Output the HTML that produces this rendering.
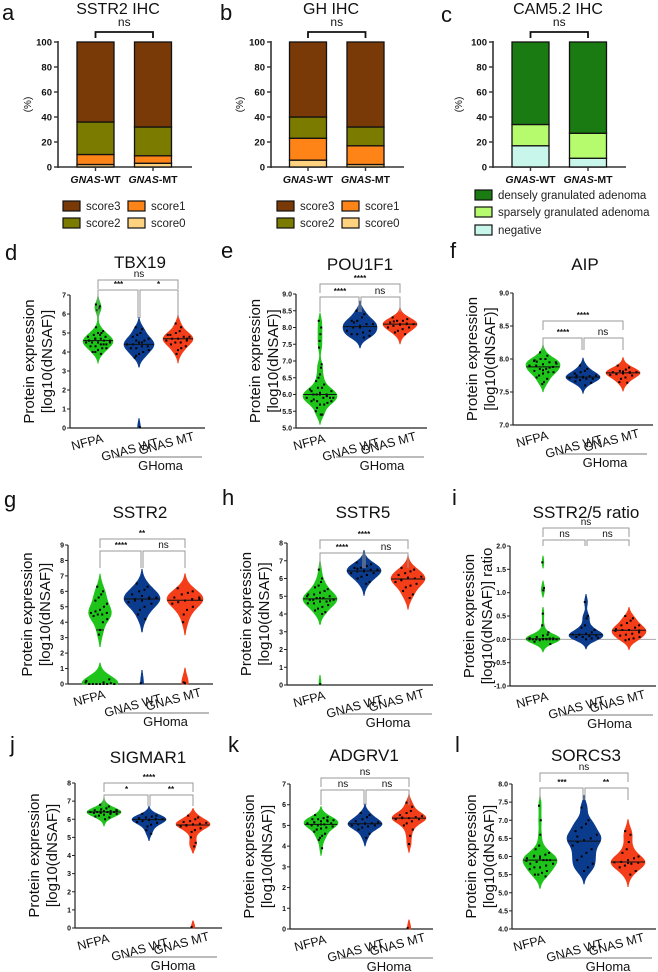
<!DOCTYPE html>
<html><head><meta charset="utf-8"><style>
html,body{margin:0;padding:0;background:#fff}
svg{display:block;font-family:"Liberation Sans",Arial,sans-serif}
</style></head><body>
<svg id="fig" width="658" height="972" viewBox="0 0 658 972"></svg>
<script>
// ---------- stacked bar data (segment %, bottom to top) ----------
const barGroups = ['GNAS-WT','GNAS-MT'];
const sstr2IhcWT = [2, 8, 26, 64];
const sstr2IhcMT = [3, 6, 23, 68];
const ghIhcWT = [5.5, 17.5, 17, 60];
const ghIhcMT = [2, 15, 15, 68];
const camIhcWT = [17, 17, 66];
const camIhcMT = [7, 20, 73];
const scoreNames = ['score0','score1','score2','score3'];
const camNames = ['negative','sparsely granulated adenoma','densely granulated adenoma'];
const barTicks = [0, 20, 40, 60, 80, 100];

// ---------- violin data ----------
const cats = ['NFPA', 'GNAS WT', 'GNAS MT'];
const tbx19NFPA = [6.5,6.4,6.3,6.2,5.3,5.1,5.0,5.0,4.9,4.8,4.8,4.7,4.7,4.6,4.6,4.6,4.5,4.5,4.5,4.4,4.4,4.3,4.3,4.2,4.2,4.1,4.0,4.0,3.9,4.9,4.7,4.6,4.5,4.4];
const tbx19WT = [5.3,5.2,5.0,4.9,4.8,4.7,4.6,4.5,4.4,4.4,4.3,4.3,4.2,4.2,4.1,4.0,3.9,3.8,3.7,0.05,4.5,4.6];
const tbx19MT = [5.5,5.3,5.1,5.0,4.9,4.8,4.8,4.7,4.7,4.6,4.6,4.5,4.5,4.4,4.3,4.2,4.1,3.9,4.9,4.7];
const pouNFPA = [8.2,8.0,7.8,7.6,7.4,6.9,6.8,6.6,6.5,6.4,6.3,6.2,6.2,6.1,6.1,6.0,6.0,6.0,5.9,5.9,5.9,5.8,5.8,5.8,5.7,5.7,5.6,5.5,5.4,5.4,6.0,6.1,5.9,5.95,6.05,5.85,6.15,5.75];
const pouWT = [8.5,8.4,8.3,8.2,8.2,8.1,8.1,8.0,8.0,7.9,7.9,7.85,7.8,7.8,7.75,7.7,8.05,8.15];
const pouMT = [8.3,8.25,8.2,8.2,8.15,8.1,8.1,8.1,8.05,8.0,8.0,7.95,7.9,7.85,7.8,8.12,8.08,8.18];
const aipNFPA = [8.1,8.05,8.0,8.0,7.98,7.95,7.95,7.92,7.9,7.9,7.88,7.85,7.85,7.82,7.8,7.8,7.78,7.75,7.72,7.7,7.65,7.62,7.97,7.93,7.87,7.83,7.96];
const aipWT = [7.9,7.85,7.82,7.8,7.78,7.75,7.74,7.73,7.72,7.71,7.7,7.7,7.68,7.66,7.64,7.6,7.72,7.75];
const aipMT = [7.9,7.87,7.84,7.82,7.8,7.8,7.79,7.78,7.77,7.76,7.75,7.72,7.7,7.65,7.64,7.8,7.81];
const sstr2NFPA = [6.3,6.0,5.8,5.6,5.4,5.2,5.0,4.8,4.7,4.6,4.6,4.5,4.5,4.4,4.2,4.0,3.5,3.2,0.1,0.05,0,0,0,0,0,0,0,0.2,0.3,0.1,0,0,0];
const sstr2WT = [6.5,6.3,6.1,6.0,5.8,5.6,5.5,5.4,5.4,5.3,5.2,5.0,4.8,4.5,4.2,5.6,5.7,5.5,0.05];
const sstr2MT = [6.2,6.0,5.9,5.8,5.6,5.5,5.5,5.4,5.3,5.2,5.0,4.8,4.5,4.0,5.6,5.45,0.05,0.1];
const sstr5NFPA = [6.5,6.0,5.8,5.6,5.5,5.4,5.3,5.2,5.1,5.0,5.0,4.9,4.9,4.8,4.8,4.7,4.7,4.6,4.6,4.5,4.4,4.3,4.2,4.1,4.0,4.9,4.8,5.1,4.75,0.05];
const sstr5WT = [6.9,6.8,6.7,6.6,6.6,6.5,6.5,6.4,6.4,6.3,6.3,6.2,6.1,6.0,5.8,5.7,6.45,6.55];
const sstr5MT = [6.6,6.5,6.4,6.3,6.2,6.1,6.0,6.0,5.9,5.8,5.7,5.6,5.5,5.3,5.1,4.9,6.05,5.95];
const ratioNFPA = [1.65,1.1,1.05,0.55,0.3,0.15,0.1,0.08,0.05,0.03,0.02,0.01,0,0,0,0,0,0,0,0,0,-0.02,-0.05,-0.1,0.02,0.01,0];
const ratioWT = [0.8,0.5,0.45,0.3,0.25,0.2,0.15,0.12,0.1,0.1,0.08,0.07,0.05,0.05,0.03,0.02,0.0,0.1];
const ratioMT = [0.5,0.45,0.4,0.35,0.3,0.3,0.25,0.2,0.2,0.18,0.15,0.12,0.1,0.08,0.05,0.02,0.0,-0.02,0.22,0.19];
const sigNFPA = [6.8,6.7,6.6,6.55,6.5,6.5,6.45,6.45,6.4,6.4,6.4,6.4,6.35,6.35,6.3,6.3,6.25,6.2,6.15,6.1,6.0,6.42,6.38,6.48,6.33];
const sigWT = [6.3,6.2,6.15,6.1,6.05,6.0,6.0,5.95,5.9,5.85,5.8,5.7,5.6,5.4,5.2,6.02,5.98];
const sigMT = [6.2,6.1,6.0,5.9,5.85,5.8,5.75,5.7,5.65,5.6,5.5,5.4,5.3,5.0,4.7,4.5,5.72,5.68,0.05];
const adgNFPA = [5.5,5.4,5.35,5.3,5.3,5.25,5.2,5.2,5.15,5.1,5.1,5.05,5.0,5.0,4.95,4.9,4.85,4.8,4.7,4.6,4.5,4.4,4.3,3.9,5.25,5.05,5.15];
const adgWT = [5.6,5.5,5.4,5.3,5.2,5.15,5.1,5.1,5.05,5.0,5.0,4.95,4.9,4.8,4.6,4.4,5.08];
const adgMT = [6.1,5.9,5.7,5.6,5.5,5.45,5.4,5.35,5.35,5.3,5.3,5.2,5.1,5.0,4.8,4.5,4.1,5.38,0.05];
const sorNFPA = [7.4,7.0,6.6,6.3,6.2,6.1,6.05,6.0,6.0,5.95,5.9,5.9,5.85,5.8,5.8,5.75,5.7,5.7,5.65,5.6,5.55,5.5,5.5,5.45,5.9,5.95,6.02,5.88];
const sorWT = [7.35,7.0,6.9,6.8,6.7,6.6,6.5,6.45,6.4,6.3,6.2,6.1,6.0,5.9,5.8,5.7,5.6,6.55];
const sorMT = [6.7,6.6,6.4,6.2,6.1,6.0,5.95,5.9,5.85,5.84,5.83,5.8,5.75,5.7,5.6,5.5,5.82];

const ticksTBX = [0,1,2,3,4,5,6,7];
const ticksPOU = [5.0,5.5,6.0,6.5,7.0,7.5,8.0,8.5,9.0];
const ticksAIP = [7.0,7.5,8.0,8.5,9.0];
const ticksSSTR2 = [0,1,2,3,4,5,6,7,8,9];
const ticks8 = [0,1,2,3,4,5,6,7,8];
const ticksRatio = [-1.0,-0.5,0.0,0.5,1.0,1.5,2.0];
const ticksSOR = [4.0,4.5,5.0,5.5,6.0,6.5,7.0,7.5,8.0];

const sigTBX = ['***','*','ns'];
const sigPOU = ['****','ns','****'];
const sigAIP = ['****','ns','****'];
const sigSSTR2 = ['****','ns','**'];
const sigSSTR5 = ['****','ns','****'];
const sigRatio = ['ns','ns','ns'];
const sigSIG = ['*','**','****'];
const sigADG = ['ns','ns','ns'];
const sigSOR = ['***','**','ns'];

const NS = 'http://www.w3.org/2000/svg';
const svg = document.getElementById('fig');
function el(tag, attrs, parent, text) {
  const e = document.createElementNS(NS, tag);
  for (const k in attrs) e.setAttribute(k, attrs[k]);
  if (text !== undefined) e.textContent = text;
  (parent || svg).appendChild(e);
  return e;
}
function txt(x, y, s, size, opts, parent) {
  const a = Object.assign({x: x, y: y, 'font-size': size, fill: '#111'}, opts || {});
  return el('text', a, parent, s);
}

// ---------- panel letters ----------
const letters = [['a',2,20],['b',220,20],['c',441,22],['d',5,260],['e',221,258],['f',450,258],
  ['g',4,507],['h',222,505],['i',452,505],['j',10,752],['k',228,752],['l',455,752]];
letters.forEach(l => {
  const t = txt(l[1], l[2], l[0], 22);
  
  
});

// ---------- stacked bar charts ----------
const scoreColors = ['#ffd27f','#ff8417','#7b7b00','#7a3a08'];
const camColors = ['#c9f6ea','#b5fb6d','#1a7b12'];
function barChart(cfg) {
  const g = el('g', {});
  
  
  const y = v => cfg.y0 - (v / 100) * (cfg.y0 - cfg.y1);
  const t = txt(cfg.tx, 14, cfg.title, 16, {'text-anchor': 'middle'}, g);
  
  
  el('line', {x1: cfg.ax, y1: cfg.y1 - 1, x2: cfg.ax, y2: cfg.y0 + 1, stroke: '#333', 'stroke-width': 1.6}, g);
  el('line', {x1: cfg.ax, y1: cfg.y0, x2: cfg.axEnd, y2: cfg.y0, stroke: '#333', 'stroke-width': 1.6}, g);
  barTicks.forEach(v => {
    el('line', {x1: cfg.ax - 4, y1: y(v), x2: cfg.ax, y2: y(v), stroke: '#333', 'stroke-width': 1.4}, g);
    const tl = txt(cfg.ax - 6, y(v) + 3.5, String(v), 9.5, {'text-anchor': 'end', 'font-weight': 'bold'}, g);
    
    
  });
  const yt = txt(0, 0, '(%)', 10, {'text-anchor': 'middle', transform: `translate(${cfg.ylx},${(cfg.y0 + cfg.y1) / 2}) rotate(-90)`}, g);
  
  
  [cfg.wt, cfg.mt].forEach((segs, i) => {
    const cx = cfg.cx[i];
    let cum = 0;
    segs.forEach((s, j) => {
      const r = el('rect', {x: cx - 18.5, y: y(cum + s), width: 37, height: y(cum) - y(cum + s), fill: cfg.colors[j], stroke: '#111', 'stroke-width': 1.3}, g);
      
      
      cum += s;
    });
    el('line', {x1: cx, y1: cfg.y0, x2: cx, y2: cfg.y0 + 4, stroke: '#333', 'stroke-width': 1.4}, g);
    const lab = el('text', {x: cx, y: cfg.y0 + 16, 'font-size': 10.5, 'font-weight': 'bold', 'text-anchor': 'middle', fill: '#111'}, g);
    el('tspan', {'font-style': 'italic'}, lab, 'GNAS');
    el('tspan', {}, lab, barGroups[i].slice(4));
    
    
  });
  const by = 32;
  el('path', {d: `M${cfg.cx[0]},${by + 6} V${by} H${cfg.cx[1]} V${by + 6}`, fill: 'none', stroke: '#111', 'stroke-width': 1.8}, g);
  const ns = txt((cfg.cx[0] + cfg.cx[1]) / 2, 26, 'ns', 12, {'text-anchor': 'middle'}, g);
  
  
  cfg.legend.forEach(L => {
    const lg = el('g', {}, g);
    
    
    el('rect', {x: L[0], y: L[1] - 5, width: 17, height: 10, fill: cfg.colors[L[2]], stroke: '#111', 'stroke-width': 1.2}, lg);
    txt(L[0] + 23, L[1] + 4, cfg.names[L[2]], 11.5, {fill: '#222'}, lg);
  });
}
barChart({name: 'sstr2-ihc-chart', title: 'SSTR2 IHC', tx: 118, ax: 58, axEnd: 192, y0: 167, y1: 42, cx: [95.5, 153], ylx: 31,
  wt: sstr2IhcWT, mt: sstr2IhcMT, colors: scoreColors, names: scoreNames,
  legend: [[63, 206, 3], [128, 206, 1], [63, 223, 2], [128, 223, 0]]});
barChart({name: 'gh-ihc-chart', title: 'GH IHC', tx: 331, ax: 271, axEnd: 404, y0: 167, y1: 42, cx: [308, 365.5], ylx: 243,
  wt: ghIhcWT, mt: ghIhcMT, colors: scoreColors, names: scoreNames,
  legend: [[277, 206, 3], [342, 206, 1], [277, 223, 2], [342, 223, 0]]});
barChart({name: 'cam52-ihc-chart', title: 'CAM5.2 IHC', tx: 558, ax: 493, axEnd: 626, y0: 167, y1: 42, cx: [530.5, 588], ylx: 462,
  wt: camIhcWT, mt: camIhcMT, colors: camColors, names: camNames,
  legend: [[475, 195, 2], [475, 212, 1], [475, 230, 0]]});

// ---------- violin charts ----------
const vColors = ['#1fc41b', '#0b3b8c', '#f43d19'];
function median(a) { const s = a.slice().sort((p, q) => p - q); const n = s.length; return n % 2 ? s[(n - 1) / 2] : (s[n / 2 - 1] + s[n / 2]) / 2; }
function violinChart(c) {
  const g = el('g', {});
  
  
  const lo = c.ticks[0], hi = c.ticks[c.ticks.length - 1];
  const y = v => c.y0 - (v - lo) / (hi - lo) * (c.y0 - c.y1);
  const t = txt(c.tx, c.ty, c.title, 17, {'text-anchor': 'middle'}, g);
  
  
  const midY = (c.y0 + c.y1) / 2;
  const yt = el('text', {'font-size': 15, 'text-anchor': 'middle', fill: '#111', transform: `translate(${c.ax - 36},${midY}) rotate(-90)`}, g);
  el('tspan', {x: 0, dy: 0}, yt, 'Protein expression');
  el('tspan', {x: 0, dy: 18}, yt, c.ratio ? '[log10(dNSAF)] ratio' : '[log10(dNSAF)]');
  
  
  el('line', {x1: c.ax, y1: c.y1, x2: c.ax, y2: c.y0 + 0.5, stroke: '#222', 'stroke-width': 1.2}, g);
  el('line', {x1: c.ax, y1: c.y0, x2: c.axEnd, y2: c.y0, stroke: '#222', 'stroke-width': 1.2}, g);
  c.ticks.forEach(v => {
    el('line', {x1: c.ax - 3, y1: y(v), x2: c.ax, y2: y(v), stroke: '#222', 'stroke-width': 1}, g);
    const tl = txt(c.ax - 4, y(v) + 2.5, c.dec ? v.toFixed(1) : String(v), 7, {'text-anchor': 'end', 'font-weight': 'bold'}, g);
    
    
  });
  if (c.ratio) el('line', {x1: c.ax, y1: y(0), x2: c.axEnd, y2: y(0), stroke: '#aaa', 'stroke-width': 1}, g);
  const bw = (hi - lo) * c.bw;
  c.groups.forEach((data, gi) => {
    const cx = c.cx[gi];
    const vg = el('g', {}, g);
    
    
    const mn = Math.max(lo, Math.min.apply(null, data) - 2.5 * bw), mx = Math.min(hi, Math.max.apply(null, data) + 2.5 * bw);
    const N = 120, pts = [];
    let maxD = 0;
    for (let i = 0; i <= N; i++) {
      const v = mn + (mx - mn) * i / N;
      let d = 0;
      data.forEach(p => { const z = (v - p) / bw; d += Math.exp(-0.5 * z * z); });
      pts.push([v, d]); if (d > maxD) maxD = d;
    }
    const W = c.w || 17;
    let runs = [], cur = [];
    pts.forEach(p => {
      if (p[1] / maxD > 0.015) cur.push(p);
      else if (cur.length) { runs.push(cur); cur = []; }
    });
    if (cur.length) runs.push(cur);
    runs.forEach(run => {
      let dPath = '';
      run.forEach((p, i) => { dPath += (i ? 'L' : 'M') + (cx + p[1] / maxD * W).toFixed(1) + ',' + y(p[0]).toFixed(1); });
      for (let i = run.length - 1; i >= 0; i--) dPath += 'L' + (cx - run[i][1] / maxD * W).toFixed(1) + ',' + y(run[i][0]).toFixed(1);
      el('path', {d: dPath + 'Z', fill: vColors[gi], stroke: vColors[gi], 'stroke-width': 0.6}, vg);
    });
    const dens = v => { let d = 0; data.forEach(p => { const z = (v - p) / bw; d += Math.exp(-0.5 * z * z); }); return d / maxD; };
    data.forEach((p, i) => {
      const off = ((i * 7) % 9 - 4) / 4 * dens(p) * W * 0.8;
      const r = el('rect', {x: cx + off - 1, y: y(p) - 1, width: 2, height: 2, fill: '#000'}, vg);
      
      
    });
    const m = median(data), mw = dens(m) * W;
    el('line', {x1: cx - mw, y1: y(m), x2: cx + mw, y2: y(m), stroke: '#111', 'stroke-width': 1}, vg);
    const lx = [cx + 6, cx + 20, cx + 17][gi], ly = [c.y0 + 14, c.y0 + 18, c.y0 + 12][gi];
    const xl = txt(lx, ly, cats[gi], 12.5, {'text-anchor': 'end', transform: `rotate(-15 ${lx} ${ly})`}, g);
    
    
  });
  el('line', {x1: c.cx[1] - 24, y1: c.y0 + 29, x2: c.cx[2] + 24, y2: c.y0 + 29, stroke: '#777', 'stroke-width': 1}, g);
  const gh = txt((c.cx[1] + c.cx[2]) / 2 + 2, c.y0 + 42, 'GHoma', 13, {'text-anchor': 'middle'}, g);
  
  
  const bg = el('g', {stroke: '#999', 'stroke-width': 1, fill: 'none'}, g);
  
  
  const lw = c.bl, up = c.bu, dr = c.drop;
  el('path', {d: `M${c.cx[0]},${up + 9} V${up} H${c.cx[2]} V${up + 9}`}, bg);
  el('path', {d: `M${c.cx[0]},${dr} V${lw} H${c.cx[1] - 1} V${dr}`}, bg);
  el('path', {d: `M${c.cx[1] + 1},${dr} V${lw} H${c.cx[2]} V${dr}`}, bg);
  const sty = s => ({'text-anchor': 'middle', 'font-weight': s === 'ns' ? 'normal' : 'bold'});
  const s1 = txt((c.cx[0] + c.cx[1]) / 2, lw - 3, c.sig[0], c.sig[0] === 'ns' ? 10 : 8, sty(c.sig[0]), g);
  const s2 = txt((c.cx[1] + c.cx[2]) / 2, lw - 3, c.sig[1], c.sig[1] === 'ns' ? 10 : 8, sty(c.sig[1]), g);
  const s3 = txt(c.cx[1], up - 3, c.sig[2], c.sig[2] === 'ns' ? 10 : 8, sty(c.sig[2]), g);
  [s1, s2, s3].forEach(s => {
    
    
  });
}
violinChart({name: 'tbx19-violin', title: 'TBX19', tx: 140, ty: 268, ax: 70, axEnd: 205, y0: 428, y1: 295, cx: [98, 139, 178],
  ticks: ticksTBX, groups: [tbx19NFPA, tbx19WT, tbx19MT], sig: sigTBX, bu: 280, bl: 290, drop: 318, bw: 0.035, w: 15});
violinChart({name: 'pou1f1-violin', title: 'POU1F1', tx: 360, ty: 270, ax: 296, axEnd: 427, y0: 428, y1: 294, cx: [320, 360, 400], dec: true,
  ticks: ticksPOU, groups: [pouNFPA, pouWT, pouMT], sig: sigPOU, bu: 284, bl: 297, drop: 312, bw: 0.035, w: 17});
violinChart({name: 'aip-violin', title: 'AIP', tx: 585, ty: 270, ax: 513, axEnd: 653, y0: 425, y1: 293, cx: [543, 583, 623], dec: true,
  ticks: ticksAIP, groups: [aipNFPA, aipWT, aipMT], sig: sigAIP, bu: 321, bl: 338, drop: 350, bw: 0.03, w: 17});
violinChart({name: 'sstr2-violin', title: 'SSTR2', tx: 140, ty: 518, ax: 68, axEnd: 213, y0: 684, y1: 545, cx: [100, 142, 185],
  ticks: ticksSSTR2, groups: [sstr2NFPA, sstr2WT, sstr2MT], sig: sigSSTR2, bu: 539, bl: 551, drop: 568, bw: 0.05, w: 18});
violinChart({name: 'sstr5-violin', title: 'SSTR5', tx: 363, ty: 518, ax: 287, axEnd: 433, y0: 685, y1: 543, cx: [320, 364, 408],
  ticks: ticks8, groups: [sstr5NFPA, sstr5WT, sstr5MT], sig: sigSSTR5, bu: 540, bl: 553, drop: 568, bw: 0.04, w: 17});
violinChart({name: 'sstr2-5-ratio-violin', title: 'SSTR2/5 ratio', tx: 586, ty: 518, ax: 510, axEnd: 656, y0: 686, y1: 546, cx: [543, 586, 629], dec: true, ratio: true,
  ticks: ticksRatio, groups: [ratioNFPA, ratioWT, ratioMT], sig: sigRatio, bu: 528, bl: 540, drop: 546, bw: 0.03, w: 17});
violinChart({name: 'sigmar1-violin', title: 'SIGMAR1', tx: 148, ty: 763, ax: 75, axEnd: 222, y0: 928, y1: 783, cx: [104, 149, 193],
  ticks: ticks8, groups: [sigNFPA, sigWT, sigMT], sig: sigSIG, bu: 783, bl: 795, drop: 806, bw: 0.025, w: 17});
violinChart({name: 'adgrv1-violin', title: 'ADGRV1', tx: 364, ty: 761, ax: 290, axEnd: 433, y0: 929, y1: 784, cx: [321, 365, 409],
  ticks: [0,1,2,3,4,5,6,7], groups: [adgNFPA, adgWT, adgMT], sig: sigADG, bu: 778, bl: 790, drop: 805, bw: 0.03, w: 17});
violinChart({name: 'sorcs3-violin', title: 'SORCS3', tx: 586, ty: 761, ax: 512, axEnd: 656, y0: 929, y1: 784, cx: [540, 584, 628], dec: true,
  ticks: ticksSOR, groups: [sorNFPA, sorWT, sorMT], sig: sigSOR, bu: 773, bl: 788, drop: 800, bw: 0.04, w: 17});
</script>
</body></html>
